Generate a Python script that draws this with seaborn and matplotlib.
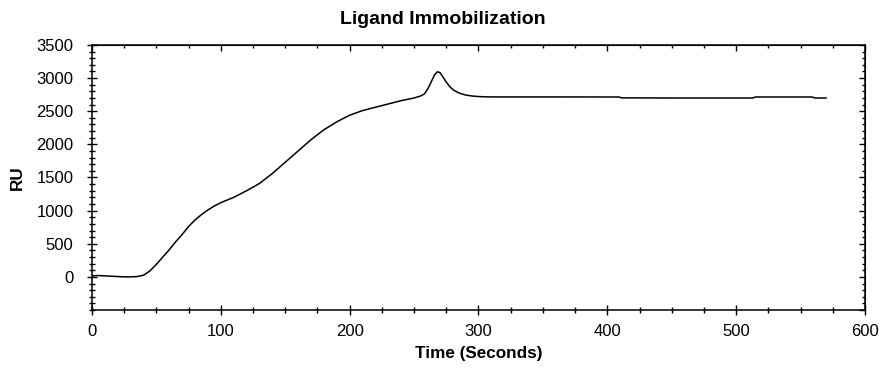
import matplotlib
matplotlib.use('Agg')
import matplotlib.pyplot as plt
import seaborn as sns
import pandas as pd
from matplotlib.ticker import MultipleLocator

# sensorgram
time_s = [0, 5, 10, 15, 20, 25, 30, 35, 40, 45, 50, 55, 60, 65, 70, 75, 80, 85,
          90, 95, 100, 110, 120, 130, 140, 150, 160, 170, 180, 190, 200, 210,
          220, 230, 240, 250, 255, 258, 261, 264, 266, 268, 270, 272, 275, 278,
          281, 285, 290, 295, 300, 305, 310, 350, 409, 411, 450, 513, 515, 559,
          561, 570]
ru = [15, 20, 15, 10, 5, 0, 0, 5, 25, 90, 190, 300, 410, 530, 640, 760, 860,
      940, 1010, 1070, 1120, 1200, 1300, 1410, 1560, 1730, 1900, 2070, 2220,
      2340, 2440, 2510, 2560, 2610, 2660, 2700, 2730, 2760, 2850, 2970, 3050,
      3095, 3085, 3030, 2940, 2865, 2815, 2775, 2745, 2730, 2722, 2718, 2716,
      2716, 2715, 2702, 2700, 2700, 2715, 2715, 2700, 2700]

df = pd.DataFrame({'Time': time_s, 'RU': ru})

sns.set_style('white')
plt.rcParams['font.family'] = ['Liberation Sans', 'DejaVu Sans']
plt.rcParams['text.color'] = 'black'
plt.rcParams['axes.labelcolor'] = 'black'
plt.rcParams['xtick.color'] = 'black'
plt.rcParams['ytick.color'] = 'black'

fig, ax = plt.subplots(figsize=(8.92, 3.8), dpi=100)
fig.subplots_adjust(left=0.1031, right=0.9697, top=0.8816, bottom=0.1842)

sns.lineplot(data=df, x='Time', y='RU', color='black', linewidth=1.1, ax=ax)

ax.set_xlim(0, 600)
ax.set_ylim(-500, 3500)
ax.xaxis.set_major_locator(MultipleLocator(100))
ax.xaxis.set_minor_locator(MultipleLocator(25))
ax.set_yticks([0, 500, 1000, 1500, 2000, 2500, 3000, 3500])
ax.yaxis.set_minor_locator(MultipleLocator(100))

for sp in ax.spines.values():
    sp.set_color('black')
    sp.set_linewidth(1.1)

ax.tick_params(which='major', direction='inout', length=6.5, width=1, color='black',
               labelsize=12, labelcolor='black', bottom=True, left=True)
ax.tick_params(which='minor', direction='inout', length=4.3, width=1, color='black',
               bottom=True, left=True)
ax.tick_params(axis='x', pad=7)
ax.tick_params(axis='y', pad=10)

# inward ticks on top and right without labels
top = ax.secondary_xaxis('top')
top.xaxis.set_major_locator(MultipleLocator(100))
top.xaxis.set_minor_locator(MultipleLocator(25))
top.tick_params(which='major', direction='in', length=4.5, width=1, labeltop=False)
top.tick_params(which='minor', direction='in', length=2.5, width=1)
right = ax.secondary_yaxis('right')
right.yaxis.set_major_locator(MultipleLocator(500))
right.yaxis.set_minor_locator(MultipleLocator(100))
right.tick_params(which='major', direction='in', length=4.5, width=1, labelright=False)
right.tick_params(which='minor', direction='in', length=2.5, width=1)

fig.suptitle('Ligand Immobilization', x=0.496, y=0.95, fontsize=14,
             fontweight='bold', color='black', va='center')
ax.set_xlabel('Time (Seconds)', fontsize=12.3, fontweight='bold', labelpad=5)
ax.set_ylabel('RU', fontsize=12.3, fontweight='bold', labelpad=8)

fig.savefig('out.png', dpi=100)
